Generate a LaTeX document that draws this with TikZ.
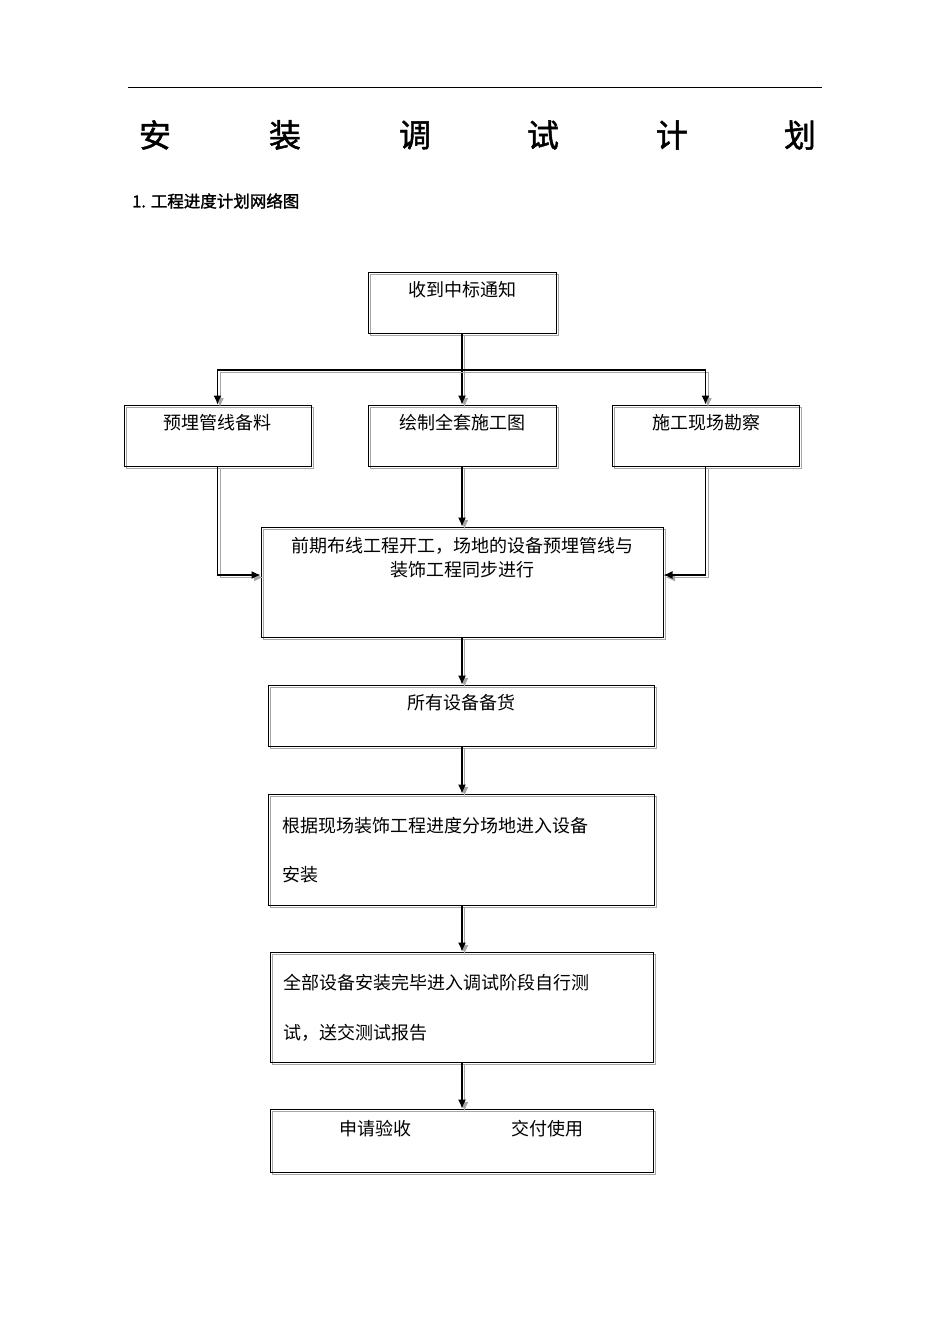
\documentclass[tikz,border=0pt]{standalone}
\usetikzlibrary{arrows.meta}
\usepackage{fontspec}
\newfontfamily\cjk{Noto Sans CJK SC}
\newfontfamily\cjkb{Noto Sans CJK SC}[FakeBold=1.5]
\begin{document}
\begin{tikzpicture}[x=1pt,y=1pt,
  shd/.style={preaction={draw=gray!70,line width=1pt,transform canvas={shift={(2.5pt,-2.5pt)}}}},
  box/.style={draw,line width=1pt,shd,inner sep=0pt},
  arr/.style={draw,line width=1.2pt,shd,-{Latex[length=9pt,width=8pt]}},
  txt/.style={font=\cjk\fontsize{18}{21}\selectfont,inner sep=0pt,anchor=center}]
\useasboundingbox (0,0) rectangle (950,-1344);
\draw[line width=0.6pt] (128,-87) -- (822,-87);
\foreach \x/\c [count=\i] in {155/安,285/装,415/调,543/试,672/计,800/划}
  \node[font=\cjkb\fontsize{32}{36}\selectfont] (t\i) at (\x,-135) {\c};
\node[anchor=west,inner sep=0pt,font=\cjkb\fontsize{16.5}{19}\selectfont] (hd) at (132,-201) {1. 工程进度计划网络图};
\node[box,minimum width=188,minimum height=61] (b1) at (462,-302.5) {};
\node[box,minimum width=187,minimum height=61] (bL) at (217.5,-435.5) {};
\node[box,minimum width=188,minimum height=61] (bM) at (462,-435.5) {};
\node[box,minimum width=187,minimum height=61] (bR) at (705.5,-435.5) {};
\node[box,minimum width=402,minimum height=110] (b4) at (462,-582) {};
\node[box,minimum width=386,minimum height=61] (b5) at (461,-715.5) {};
\node[box,minimum width=386,minimum height=111] (b6) at (461,-849.5) {};
\node[box,minimum width=383,minimum height=110] (b7) at (461.5,-1007) {};
\node[box,minimum width=383,minimum height=63] (b8) at (461.5,-1140.5) {};
\node[txt] (x1) at (462,-290) {收到中标通知};
\node[txt] (xL) at (217,-423) {预埋管线备料};
\node[txt] (xM) at (462,-423) {绘制全套施工图};
\node[txt] (xR) at (706,-423) {施工现场勘察};
\node[txt] (x4a) at (462,-546) {前期布线工程开工，场地的设备预埋管线与};
\node[txt] (x4b) at (462,-570) {装饰工程同步进行};
\node[txt] (x5) at (461,-703) {所有设备备货};
\node[txt,anchor=west] (x6a) at (282,-826) {根据现场装饰工程进度分场地进入设备};
\node[txt,anchor=west] (x6b) at (282,-875) {安装};
\node[txt,anchor=west] (x7a) at (283,-983) {全部设备安装完毕进入调试阶段自行测};
\node[txt,anchor=west] (x7b) at (283,-1033) {试，送交测试报告};
\node[txt] (x8a) at (375,-1129) {申请验收};
\node[txt] (x8b) at (547,-1129) {交付使用};
\coordinate (br) at (462,-370);
\draw[line width=1.2pt,shd] (b1.south) -- (br);
\draw[arr] (br) -- (bM.north);
\draw[arr] (br) -| (bL.north);
\draw[arr] (br) -| (bR.north);
\draw[arr] (bM.south) -- (b4.north);
\draw[arr] (bL.south) |- ([yshift=7pt]b4.west);
\draw[arr] (bR.south) |- ([yshift=7pt]b4.east);
\draw[arr] (b4.south) -- (b5.north-|b4.south);
\draw[arr] (b5.south-|b4.south) -- (b6.north-|b4.south);
\draw[arr] (b6.south-|b4.south) -- (b7.north-|b4.south);
\draw[arr] (b7.south-|b4.south) -- (b8.north-|b4.south);
\end{tikzpicture}
\end{document}
